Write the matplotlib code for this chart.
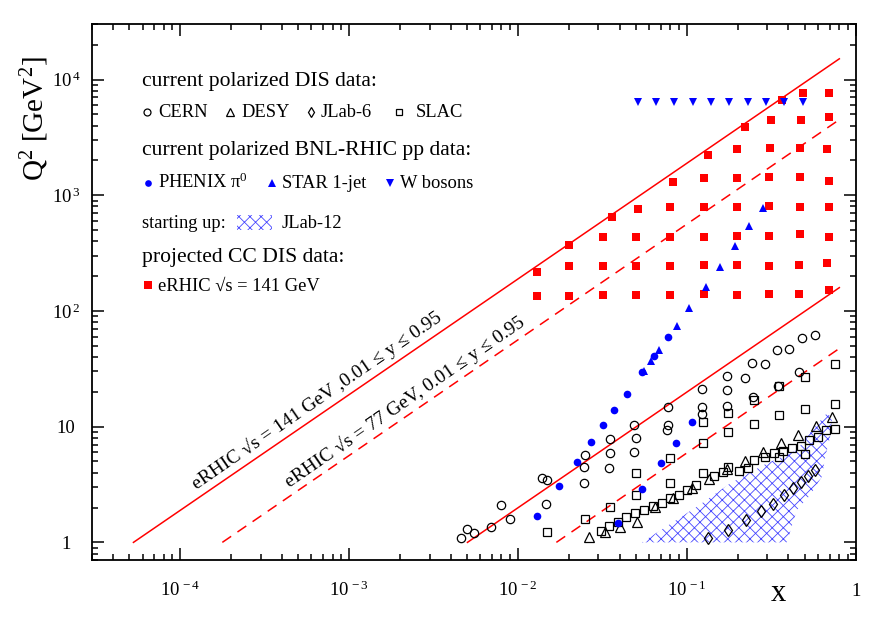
import matplotlib
matplotlib.use('Agg')
import matplotlib.pyplot as plt
from matplotlib.lines import Line2D
from matplotlib.patches import Rectangle, Polygon
from matplotlib.ticker import FixedLocator, FixedFormatter, LogLocator, NullFormatter

plt.rcParams['font.family'] = ['Liberation Serif', 'DejaVu Serif']
plt.rcParams['mathtext.fontset'] = 'custom'
plt.rcParams['mathtext.rm'] = 'Liberation Serif'
plt.rcParams['mathtext.it'] = 'Liberation Serif:italic'
plt.rcParams['hatch.linewidth'] = 0.6

# ---- data (x, Q^2) ----
cern_x = [0.00459, 0.00502, 0.0055, 0.00697, 0.00795, 0.00899, 0.01396, 0.01494, 0.01468,
          0.02474, 0.02497, 0.02474, 0.0351, 0.0351, 0.03466, 0.04893, 0.05007, 0.0487,
          0.0772, 0.0778, 0.0767, 0.1226, 0.1229, 0.1234, 0.1724, 0.1719, 0.1724, 0.2222,
          0.2444, 0.2456, 0.2906, 0.3438, 0.3465, 0.405, 0.4639, 0.4834, 0.5724]
cern_q2 = [1.096, 1.295, 1.196, 1.364, 2.087, 1.58, 3.57, 3.45, 2.14, 3.23, 5.68, 4.45,
           7.76, 5.94, 4.36, 10.3, 7.96, 6.03, 14.8, 10.3, 9.34, 21.2, 14.8, 12.8, 27.5,
           20.8, 15.1, 26.4, 35.4, 18.1, 34.5, 45.6, 22.4, 46.8, 29.6, 57.9, 61.8]

desy_x = [0.02638, 0.0328, 0.04026, 0.0506, 0.0649, 0.0833, 0.107, 0.136, 0.1739, 0.2213,
          0.2817, 0.3599, 0.4576, 0.5823, 0.7275]
desy_q2 = [1.105, 1.235, 1.364, 1.506, 2.006, 2.428, 2.927, 3.501, 4.297, 5.07, 6.065,
           7.167, 8.45, 10.1, 12.17]

jlab6_x = [0.1336, 0.1762, 0.2243, 0.2753, 0.3255, 0.375, 0.4275, 0.4768, 0.5245, 0.5748]
jlab6_q2 = [1.089, 1.29, 1.549, 1.853, 2.142, 2.562, 2.927, 3.299, 3.762, 4.213]

slac_x = [0.01494, 0.02488, 0.03094, 0.03479, 0.0351, 0.03902, 0.04387, 0.04905, 0.0501,
          0.0501, 0.056, 0.0634, 0.0711, 0.0799, 0.0799, 0.0799, 0.0897, 0.1004, 0.113,
          0.1253, 0.1253, 0.1253, 0.1441, 0.1633, 0.175, 0.175, 0.175, 0.2048, 0.2314,
          0.2512, 0.2512, 0.2512, 0.2906, 0.3287, 0.3518, 0.3518, 0.3518, 0.3729, 0.4183,
          0.4716, 0.5014, 0.5014, 0.5014, 0.5296, 0.5944, 0.6675, 0.7497, 0.7497, 0.7497]
slac_q2 = [1.227, 1.6, 1.26, 1.391, 2.039, 1.503, 1.648, 1.791, 2.562, 3.994, 1.92, 2.067,
           2.198, 2.438, 3.252, 5.316, 2.562, 2.858, 3.113, 4.009, 7.167, 10.88, 3.74,
           4.074, 4.517, 8.918, 13.02, 4.172, 4.358, 5.14, 10.52, 16.96, 5.49, 5.944, 5.49,
           12.51, 22.4, 6.21, 6.566, 6.86, 5.757, 14.09, 26.65, 7.697, 8.074, 9.337, 9.467,
           15.66, 34.5]

phenix_x = [0.01293, 0.01753, 0.0223, 0.0271, 0.0321, 0.0371, 0.0441, 0.0546, 0.0643,
            0.0772, 0.039, 0.0543, 0.0704, 0.0867, 0.107]
phenix_q2 = [1.687, 3.05, 4.94, 7.31, 10.3, 13.9, 19.0, 29.4, 40.7, 59.4, 1.46, 2.89,
             4.81, 7.21, 10.9]

star_x = [0.0558, 0.0617, 0.0685, 0.0872, 0.1036, 0.1295, 0.1567, 0.1939, 0.2346, 0.2817]
star_q2 = [30.4, 37.1, 45.9, 73.9, 105, 161.5, 240, 365, 540, 768]

w_x = [0.0513, 0.0658, 0.0844, 0.1085, 0.1392, 0.1786, 0.2296, 0.2946, 0.3781, 0.486]
w_q2 = [6400, 6400, 6400, 6400, 6400, 6400, 6400, 6400, 6400, 6400]

erhic_x = [0.01294, 0.01294,
           0.02, 0.02, 0.02,
           0.0361, 0.032, 0.032, 0.032,
           0.0513, 0.0501, 0.0501, 0.0501,
           0.0833, 0.0796, 0.0796, 0.0796, 0.0796,
           0.1341, 0.126, 0.126, 0.126, 0.126, 0.126,
           0.2213, 0.1985, 0.1985, 0.1985, 0.1985, 0.1985, 0.1985,
           0.365, 0.3167, 0.3124, 0.308, 0.308, 0.308, 0.308, 0.308,
           0.49, 0.4728, 0.4684, 0.4684, 0.4684, 0.4684, 0.462, 0.462,
           0.6955, 0.6955, 0.674, 0.6955, 0.6955, 0.6955, 0.674, 0.6955]
erhic_q2 = [215, 134,
            375, 245, 134,
            650, 434, 245, 137,
            758, 434, 245, 137,
            1304, 789, 437, 245, 137,
            2218, 1413, 789, 437, 249, 139,
            3849, 2515, 1413, 793, 443, 249, 137,
            6625, 4425, 2535, 1423, 804, 445, 245, 139,
            7721, 4512, 2565, 1440, 799, 458, 249, 140,
            7660, 4752, 2485, 1322, 793, 434, 259, 152]

# JLab-12 region outline
jlab12_x = [0.0541, 0.0727, 0.1146, 0.1803, 0.284, 0.448, 0.552, 0.676, 0.724, 0.705,
            0.659, 0.63, 0.537, 0.448, 0.391]
jlab12_q2 = [1.0, 1.32, 2.03, 3.23, 4.65, 6.27, 9.34, 13.1, 11.85, 8.17, 5.35, 3.69,
             2.56, 1.90, 1.0]

# kinematic limits (end points)
lim141_hi_x, lim141_hi_q2 = [5.3e-5, 0.8], [1, 15100]
lim77_hi_x, lim77_hi_q2 = [1.78e-4, 0.8], [1, 4500]
lim141_lo_x, lim141_lo_q2 = [5.03e-3, 0.8], [1, 159]
lim77_lo_x, lim77_lo_q2 = [1.69e-2, 0.8], [1, 47.4]

xticks = [1e-4, 1e-3, 1e-2, 1e-1, 1]
xticklabels = ['$10^{\\,-4}$', '$10^{\\,-3}$', '$10^{\\,-2}$', '$10^{\\,-1}$', '1']
yticks = [1, 10, 100, 1000, 10000]
yticklabels = ['1', '10', '$10^{\\,2}$', '$10^{\\,3}$', '$10^{\\,4}$']

W, H = 877, 618


def fx(px):
    return px / W


def fy(py):
    return 1 - py / H


fig = plt.figure(figsize=(W / 100, H / 100), dpi=100)
ax = fig.add_axes([fx(91.7), fy(560.3), fx(855.7) - fx(91.7), fy(24.3) - fy(560.3)])
ax.set_xscale('log')
ax.set_yscale('log')
ax.set_xlim(3e-5, 1)
ax.set_ylim(0.7, 3e4)

red = '#ff0000'
blue = '#0000ff'
hatch_blue = '#4646ff'

ax.add_patch(Polygon(list(zip(jlab12_x, jlab12_q2)), closed=True, facecolor='none',
                     edgecolor=hatch_blue, linewidth=0, hatch='xxx', zorder=1))

ax.plot(lim141_hi_x, lim141_hi_q2, color=red, lw=1.1, zorder=2)
ax.plot(lim141_lo_x, lim141_lo_q2, color=red, lw=1.1, zorder=2)
ax.plot(lim77_hi_x, lim77_hi_q2, color=red, lw=1.1, dashes=(7, 5), zorder=2)
ax.plot(lim77_lo_x, lim77_lo_q2, color=red, lw=1.1, dashes=(7, 5), zorder=2)

open_kw = dict(ls='none', mfc='none', mec='black', mew=0.9, zorder=4)
ax.plot(cern_x, cern_q2, marker='o', ms=6, **open_kw)
ax.plot(desy_x, desy_q2, marker='^', ms=6.5, **open_kw)
ax.plot(jlab6_x, jlab6_q2, marker='d', ms=6.5, **open_kw)
ax.plot(slac_x, slac_q2, marker='s', ms=5.5, **open_kw)

ax.plot(phenix_x, phenix_q2, 'o', color=blue, ms=5.5, mew=0, zorder=5)
ax.plot(star_x, star_q2, '^', color=blue, ms=6.3, mew=0, zorder=5)
ax.plot(w_x, w_q2, 'v', color=blue, ms=6.3, mew=0, zorder=5)
ax.plot(erhic_x, erhic_q2, 's', color=red, ms=6, mew=0, zorder=3)

# axes, ticks
for sp in ax.spines.values():
    sp.set_linewidth(1.3)
ax.xaxis.set_major_locator(FixedLocator(xticks))
ax.xaxis.set_major_formatter(FixedFormatter(xticklabels))
ax.yaxis.set_major_locator(FixedLocator(yticks))
ax.yaxis.set_major_formatter(FixedFormatter(yticklabels))
ax.xaxis.set_minor_locator(LogLocator(base=10, subs=range(2, 10), numticks=20))
ax.yaxis.set_minor_locator(LogLocator(base=10, subs=range(2, 10), numticks=20))
ax.xaxis.set_minor_formatter(NullFormatter())
ax.yaxis.set_minor_formatter(NullFormatter())
ax.tick_params(which='both', direction='in', top=True, right=True, width=1.1)
ax.tick_params(which='major', length=8.5)
ax.tick_params(which='minor', length=4.5)
ax.tick_params(axis='x', labelsize=13.5, pad=26)
ax.tick_params(axis='y', labelsize=13.5, pad=18.5)
plt.setp(ax.get_xticklabels(), va='baseline')
plt.setp(ax.get_yticklabels(), ha='center', va='center_baseline')

fig.text(fx(35), fy(119), r'$\mathrm{Q}^{2}\ [\mathrm{GeV}^{2}]$', rotation=90,
         ha='center', va='center', fontsize=21)
fig.text(fx(778), fy(601), 'x', ha='center', va='baseline', fontsize=22)

# labels along the kinematic limits
fig.text(fx(317), fy(400.5), 'eRHIC √s = 141 GeV ,0.01 ≤ y ≤ 0.95', rotation=34.6,
         ha='center', va='center', fontsize=14, rotation_mode='anchor')
fig.text(fx(405), fy(402), 'eRHIC √s = 77 GeV, 0.01 ≤ y ≤ 0.95', rotation=34.6,
         ha='center', va='center', fontsize=14, rotation_mode='anchor')

# legend block
head = 15.6
item = 13.3
fig.text(fx(142.3), fy(86), 'current polarized DIS data:', fontsize=head, va='baseline')
fig.text(fx(142.3), fy(155), 'current polarized BNL-RHIC pp data:', fontsize=head, va='baseline')
fig.text(fx(142.3), fy(228.3), 'starting up:', fontsize=item, va='baseline')
fig.text(fx(142.3), fy(262.3), 'projected CC DIS data:', fontsize=head, va='baseline')


def legend_item(px, py, tx, label, **kw):
    fig.add_artist(Line2D([fx(px)], [fy(py)], transform=fig.transFigure, ls='none', **kw))
    fig.text(fx(tx), fy(py + 5.6), label, fontsize=item, va='baseline')


leg_open = dict(mfc='none', mec='black', mew=0.9)
legend_item(146.7, 111.7, 158.3, 'CERN', marker='o', ms=5, **leg_open)
legend_item(229.7, 111.7, 241, 'DESY', marker='^', ms=6, **leg_open)
legend_item(310.7, 111.7, 320.7, 'JLab-6', marker='d', ms=5.5, **leg_open)
legend_item(398.7, 111.7, 415.7, 'SLAC', marker='s', ms=5, **leg_open)
legend_item(147.7, 182.7, 158.3, 'PHENIX π$^{0}$', marker='o', ms=4.8, color=blue, mew=0)
legend_item(271.7, 182.7, 281.7, 'STAR 1-jet', marker='^', ms=5.5, color=blue, mew=0)
legend_item(390, 182.7, 400, 'W bosons', marker='v', ms=5.5, color=blue, mew=0)
legend_item(147.7, 285, 158.3, 'eRHIC √s = 141 GeV', marker='s', ms=5.5, color=red, mew=0)

fig.add_artist(Rectangle((fx(237), fy(230)), fx(272) - fx(237), fy(215) - fy(230),
                         transform=fig.transFigure, facecolor='none', edgecolor=hatch_blue,
                         linewidth=0, hatch='xxx'))
fig.text(fx(281.7), fy(228.3), 'JLab-12', fontsize=item, va='baseline')

fig.savefig('out.png', dpi=100)
